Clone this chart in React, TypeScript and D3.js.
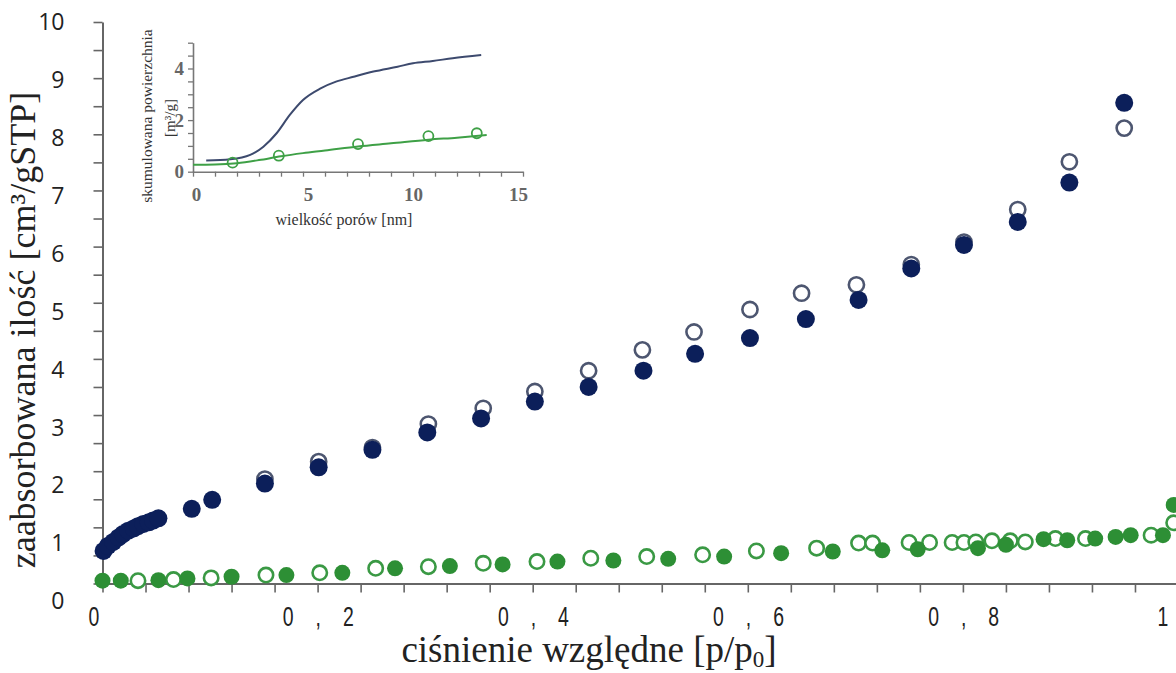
import React, { useRef, useEffect } from 'react';
import * as d3 from 'd3';

// main isotherm: [p/p0, cm3/gSTP]
const navyAdsorption: [number, number][] = [
  [0.001, 0.58], [0.005, 0.67], [0.010, 0.74], [0.015, 0.82], [0.019, 0.88], [0.024, 0.94],
  [0.029, 0.98], [0.033, 1.02], [0.038, 1.06], [0.043, 1.09], [0.047, 1.12], [0.052, 1.16],
  [0.083, 1.33], [0.102, 1.49], [0.151, 1.78], [0.201, 2.07], [0.251, 2.38], [0.302, 2.69],
  [0.352, 2.94], [0.402, 3.24], [0.452, 3.50], [0.503, 3.79], [0.551, 4.09], [0.602, 4.37],
  [0.654, 4.71], [0.703, 5.05], [0.752, 5.61], [0.801, 6.03], [0.851, 6.44], [0.899, 7.14],
  [0.950, 8.56],
];
const navyDesorption: [number, number][] = [
  [0.151, 1.86], [0.201, 2.17], [0.251, 2.42], [0.303, 2.84], [0.354, 3.12], [0.402, 3.42],
  [0.452, 3.79], [0.502, 4.16], [0.550, 4.48], [0.602, 4.88], [0.650, 5.17], [0.701, 5.32],
  [0.752, 5.68], [0.801, 6.08], [0.851, 6.66], [0.899, 7.51], [0.950, 8.11],
];
const greenAdsorption: [number, number][] = [
  [0.000, 0.05], [0.017, 0.05], [0.052, 0.06], [0.079, 0.09], [0.120, 0.12], [0.171, 0.15],
  [0.223, 0.19], [0.272, 0.27], [0.323, 0.31], [0.372, 0.34], [0.423, 0.39], [0.475, 0.41],
  [0.526, 0.44], [0.578, 0.48], [0.631, 0.54], [0.679, 0.57], [0.725, 0.59], [0.758, 0.61],
  [0.814, 0.63], [0.840, 0.69], [0.875, 0.79], [0.897, 0.77], [0.923, 0.80], [0.942, 0.83],
  [0.956, 0.86], [0.986, 0.86], [0.996, 1.40],
];
const greenDesorption: [number, number][] = [
  [0.033, 0.05], [0.066, 0.07], [0.101, 0.10], [0.152, 0.15], [0.202, 0.19], [0.254, 0.27],
  [0.303, 0.30], [0.354, 0.36], [0.404, 0.39], [0.454, 0.45], [0.506, 0.48], [0.558, 0.51],
  [0.608, 0.58], [0.664, 0.63], [0.703, 0.72], [0.716, 0.72], [0.750, 0.73], [0.769, 0.73],
  [0.790, 0.73], [0.801, 0.73], [0.812, 0.74], [0.827, 0.76], [0.844, 0.76], [0.858, 0.74],
  [0.886, 0.80], [0.914, 0.80], [0.975, 0.86], [0.996, 1.08],
];

const xTickValues = [0, 0.2, 0.4, 0.6, 0.8, 1];
const xTickLabels = ['0', '0 , 2', '0 , 4', '0 , 6', '0 , 8', '1'];
const yTickValues = [0, 1, 2, 3, 4, 5, 6, 7, 8, 9, 10];

// inset: cumulative surface area vs pore size
const insetNavyCurve: [number, number][] = [
  [0.6, 0.43], [1.7, 0.48], [2.6, 0.65], [3.2, 0.97], [3.8, 1.49], [4.4, 2.20], [5.0, 2.78],
  [5.8, 3.23], [6.5, 3.49], [7.3, 3.68], [8.2, 3.88], [9.3, 4.07], [10.0, 4.20], [10.9, 4.29],
  [11.8, 4.40], [13.1, 4.52],
];
const insetGreenCurve: [number, number][] = [
  [0, 0.27], [1, 0.28], [2, 0.33], [3, 0.45], [4, 0.60], [5, 0.72], [6, 0.82], [7.5, 0.98],
  [9, 1.10], [10.7, 1.24], [12, 1.32], [13.35, 1.42],
];
const insetGreenPoints: [number, number][] = [
  [1.8, 0.35], [3.9, 0.62], [7.5, 1.07], [10.7, 1.38], [12.9, 1.49],
];
const insetXTicks = [0, 5, 10, 15];
const insetYTicks = [0, 2, 4];

const NAVY = '#0c1f5a';
const NAVY_RING = '#4d5670';
const GREEN = '#2d8f35';
const GREEN_RING = '#3a9944';

const App = () => {
  const container = useRef<HTMLDivElement>(null);

  useEffect(() => {
    if (!container.current) return;
    d3.select(container.current).select('svg').remove();

    const W = 1176;
    const H = 673;
    const margin = { top: 22, right: -2, bottom: 89.5, left: 102.5 };
    const width = W - margin.left - margin.right;
    const height = H - margin.top - margin.bottom;

    const root = d3.select(container.current)
      .append('svg')
      .attr('width', W)
      .attr('height', H)
      .style('display', 'block')
      .style('background', '#fff');

    const svg = root.append('g')
      .attr('transform', `translate(${margin.left},${margin.top})`);

    const x = d3.scaleLinear().domain([0, 1]).range([0, width]);
    const y = d3.scaleLinear().domain([0, 10]).range([height, 0]);
    // the tick numbers on the left sit a little off the tick marks in the original
    const yLabel = d3.scaleLinear().domain([0, 10]).range([height + 18, 0]);

    // axes
    const left = svg.append('g')
      .call(d3.axisLeft(y).tickValues(d3.range(0, 10.001, 0.5)).tickSize(9).tickSizeOuter(0).tickFormat(() => ''));
    left.select('.domain').attr('stroke', '#666').attr('stroke-width', 2);
    left.selectAll('.tick line').attr('stroke', '#666').attr('stroke-width', 1.6);

    const bottom = svg.append('g')
      .attr('transform', `translate(0,${height})`)
      .call(d3.axisBottom(x).tickValues(d3.range(0, 1.0001, 0.04)).tickSize(9).tickSizeOuter(0).tickFormat(() => ''));
    bottom.select('.domain').attr('stroke', '#666').attr('stroke-width', 2);
    bottom.selectAll('.tick line').attr('stroke', '#666').attr('stroke-width', 1.6);

    const yLabels = svg.append('g')
      .call(d3.axisLeft(yLabel).tickValues(yTickValues).tickSize(0).tickPadding(38).tickFormat(d => String(d)));
    yLabels.select('.domain').remove();
    yLabels.selectAll('text')
      .attr('font-family', '"Open Sans", "Noto Sans", sans-serif')
      .attr('font-size', 23)
      .attr('fill', '#222');

    // tall, narrow digits: squeeze a regular sans horizontally
    const xLabels = svg.append('g')
      .attr('transform', `translate(0,${height})`)
      .call(d3.axisBottom(x).tickValues(xTickValues).tickSize(0).tickPadding(23)
        .tickFormat((d, i) => xTickLabels[i]));
    xLabels.select('.domain').remove();
    xLabels.selectAll('text')
      .attr('font-family', '"Liberation Sans", Arimo, sans-serif')
      .attr('font-size', 27)
      .attr('letter-spacing', 11.5)
      .attr('transform', 'scale(0.72,1)')
      .attr('dx', (d, i) => (i === 0 ? -7 : i === 5 ? -16 : 6))
      .attr('fill', '#222');

    // axis titles
    const serif = '"Liberation Serif", "DejaVu Serif", serif';
    svg.append('text')
      .attr('transform', `translate(${35 - margin.left},${330 - margin.top}) rotate(-90)`)
      .attr('text-anchor', 'middle')
      .attr('font-family', serif)
      .attr('font-size', 36)
      .attr('fill', '#222')
      .text('zaabsorbowana ilość [cm³/gSTP]');

    const xTitle = svg.append('text')
      .attr('x', 589 - margin.left)
      .attr('y', 662 - margin.top)
      .attr('text-anchor', 'middle')
      .attr('font-family', serif)
      .attr('font-size', 37)
      .attr('fill', '#222');
    xTitle.append('tspan').text('ciśnienie względne [p/p');
    xTitle.append('tspan').attr('font-size', 23).attr('dy', 5).text('0');
    xTitle.append('tspan').attr('dy', -5).text(']');

    // markers: rings first, filled dots on top
    const rings = (data: [number, number][], color: string, r: number) => {
      svg.append('g').selectAll('circle').data(data).join('circle')
        .attr('cx', d => x(d[0]))
        .attr('cy', d => y(d[1]))
        .attr('r', r)
        .attr('fill', '#fff')
        .attr('stroke', color)
        .attr('stroke-width', 2.6);
    };
    const dots = (data: [number, number][], color: string, r: number) => {
      svg.append('g').selectAll('circle').data(data).join('circle')
        .attr('cx', d => x(d[0]))
        .attr('cy', d => y(d[1]))
        .attr('r', r)
        .attr('fill', color);
    };
    rings(greenDesorption, GREEN_RING, 7.2);
    dots(greenAdsorption, GREEN, 8);
    rings(navyDesorption, NAVY_RING, 7.6);
    dots(navyAdsorption, NAVY, 9);

    // inset
    const inset = root.append('g');
    const ix = d3.scaleLinear().domain([0, 15]).range([193, 523]);
    const iy = d3.scaleLinear().domain([0, 5]).range([171.7, 42.7]);

    const iLeft = inset.append('g')
      .attr('transform', `translate(${ix(0)},0)`)
      .call(d3.axisLeft(iy).tickValues(d3.range(0, 5.001, 0.5)).tickSize(5).tickSizeOuter(0).tickFormat(() => ''));
    const iBottom = inset.append('g')
      .attr('transform', `translate(0,${iy(0)})`)
      .call(d3.axisBottom(ix).tickValues(d3.range(0, 15.001, 1)).tickSize(5).tickSizeOuter(0).tickFormat(() => ''));
    [iLeft, iBottom].forEach(a => {
      a.select('.domain').attr('stroke', '#777').attr('stroke-width', 1.6);
      a.selectAll('.tick line').attr('stroke', '#777').attr('stroke-width', 1.3);
    });

    const iyLab = inset.append('g')
      .attr('transform', `translate(${ix(0)},0)`)
      .call(d3.axisLeft(iy).tickValues(insetYTicks).tickSize(0).tickPadding(9).tickFormat(d => String(d)));
    const ixLab = inset.append('g')
      .attr('transform', `translate(0,${iy(0)})`)
      .call(d3.axisBottom(ix).tickValues(insetXTicks).tickSize(0).tickPadding(16).tickFormat(d => String(d)));
    [iyLab, ixLab].forEach(a => {
      a.select('.domain').remove();
      a.selectAll('text')
        .attr('font-family', serif)
        .attr('font-weight', 'bold')
        .attr('font-size', 19)
        .attr('fill', '#666');
    });
    ixLab.selectAll('text').attr('dx', (d, i) => (i === 0 ? 3 : i === 1 ? 5 : i === 3 ? -5 : 0));

    const iLine = d3.line<[number, number]>()
      .x(d => ix(d[0]))
      .y(d => iy(d[1]))
      .curve(d3.curveMonotoneX);

    inset.append('path')
      .datum(insetNavyCurve)
      .attr('fill', 'none')
      .attr('stroke', '#3d4a6e')
      .attr('stroke-width', 2)
      .attr('d', iLine);
    inset.append('path')
      .datum(insetGreenCurve)
      .attr('fill', 'none')
      .attr('stroke', '#3ea046')
      .attr('stroke-width', 2)
      .attr('d', iLine);
    inset.append('g').selectAll('circle').data(insetGreenPoints).join('circle')
      .attr('cx', d => ix(d[0]))
      .attr('cy', d => iy(d[1]))
      .attr('r', 5)
      .attr('fill', 'none')
      .attr('stroke', '#3ea046')
      .attr('stroke-width', 1.8);

    inset.append('text')
      .attr('transform', 'translate(152,116) rotate(-90)')
      .attr('text-anchor', 'middle')
      .attr('font-family', serif)
      .attr('font-size', 15.5)
      .attr('fill', '#333')
      .text('skumulowana powierzchnia');
    inset.append('text')
      .attr('transform', 'translate(175,118) rotate(-90)')
      .attr('text-anchor', 'middle')
      .attr('font-family', serif)
      .attr('font-size', 15)
      .attr('fill', '#333')
      .text('[m³/g]');
    inset.append('text')
      .attr('x', 344)
      .attr('y', 225)
      .attr('text-anchor', 'middle')
      .attr('font-family', serif)
      .attr('font-size', 16)
      .attr('fill', '#333')
      .text('wielkość porów [nm]');
  }, []);

  return <div ref={container} style={{ position: 'absolute', left: 0, top: 0 }}></div>;
};

export default App;
